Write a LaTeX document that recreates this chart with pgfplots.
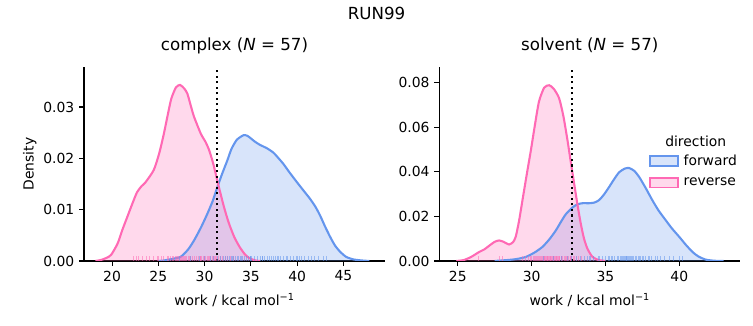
\documentclass[border=0pt]{standalone}
\usepackage{fontspec}
\setmainfont{DejaVu Sans}
\usepackage{pgfplots}
\usepackage{pgfplotstable}
\pgfplotsset{compat=1.18}
\definecolor{cblue}{RGB}{100,149,237}
\definecolor{cpink}{RGB}{255,105,180}

\pgfplotstableread{
x y
18.2 0
18.8 0.0002
19.4 0.0006
19.9 0.0012
20.6 0.0034
21.1 0.0060
21.65 0.0086
22.2 0.0112
22.7 0.0134
23.2 0.0146
23.6 0.0153
24.5 0.0177
25.1 0.0210
25.6 0.0248
26.0 0.0283
26.4 0.0316
26.9 0.0338
27.35 0.0343
27.8 0.0336
28.14 0.0326
28.5 0.0303
28.86 0.0281
29.59 0.0248
30.1 0.0232
30.49 0.0216
30.9 0.0192
31.2 0.0170
31.6 0.0140
32.1 0.0105
32.6 0.0075
33.2 0.0047
33.8 0.0027
34.4 0.0012
34.9 0.0005
35.5 0.0001
36.0 0
}\cpink

\pgfplotstableread{
x y
25.0 0
25.6 0.0001
26.5 0.0004
27.4 0.0008
28.2 0.0022
28.86 0.0040
29.6 0.0065
30.3 0.0092
30.9 0.0118
31.38 0.0144
31.9 0.0170
32.46 0.0196
32.9 0.0218
33.48 0.0236
34.2 0.0245
34.6 0.0244
34.92 0.0240
35.4 0.0233
36.0 0.0226
36.7 0.0220
37.44 0.0211
38.0 0.0200
38.52 0.0189
39.2 0.0172
39.96 0.0154
40.7 0.0137
41.4 0.0121
42.0 0.0105
42.5 0.0088
43.0 0.0068
43.57 0.0047
44.1 0.0030
44.65 0.0018
45.3 0.0008
46.1 0.0003
47.0 0.0001
47.8 0
}\cblue

\pgfplotstableread{
x y
24.9 0
25.4 0.0004
25.9 0.0018
26.44 0.0040
26.8 0.0052
27.12 0.0068
27.5 0.0086
27.8 0.0092
28.1 0.0086
28.47 0.0074
28.75 0.0085
28.93 0.0110
29.15 0.0180
29.38 0.0272
29.65 0.0380
29.95 0.0496
30.2 0.0600
30.5 0.0715
30.85 0.0777
31.19 0.0788
31.5 0.0772
31.86 0.0730
32.15 0.0650
32.43 0.0541
32.65 0.0445
32.88 0.0347
33.1 0.0255
33.33 0.0167
33.55 0.0100
33.78 0.0055
34.1 0.0020
34.5 0.0005
35.0 0
}\spink

\pgfplotstableread{
x y
27.5 0
28.5 0.0005
29.0 0.0009
29.6 0.0018
30.2 0.0038
30.73 0.0063
31.2 0.0097
31.64 0.0137
32.0 0.0177
32.32 0.0210
32.77 0.0240
33.1 0.0254
33.44 0.0259
33.9 0.0259
34.25 0.0262
34.57 0.0273
34.9 0.0298
35.25 0.0332
35.6 0.0368
35.93 0.0398
36.3 0.0414
36.6 0.0417
36.95 0.0404
37.28 0.0377
37.7 0.0330
38.18 0.0272
38.6 0.0226
39.09 0.0182
39.5 0.0146
40.0 0.0108
40.45 0.0072
40.9 0.0040
41.3 0.0020
41.8 0.0006
42.4 0.0001
43.0 0
}\sblue

\pgfplotsset{
  myaxis/.style={
    scale only axis, width=216.7pt, height=139.7pt,
    axis x line=bottom, axis y line=left,
    axis line style={-, line width=0.8pt, black},
    tick align=outside, xtick pos=bottom, ytick pos=left,
    major tick length=3.5pt,
    every tick/.style={black, line width=0.8pt},
    tick label style={font=\fontsize{10}{12}\selectfont},
    label style={font=\fontsize{10}{12}\selectfont},
    title style={font=\fontsize{12}{14}\selectfont, at={(axis description cs:0.5,1.067)}, anchor=center},
    xlabel style={at={(axis description cs:0.5,-0.201)}, anchor=center},
    /pgf/number format/assume math mode=true,
    scaled y ticks=false,
    yticklabel style={/pgf/number format/.cd, fixed, fixed zerofill, precision=2},
    xlabel={work / kcal mol\textsuperscript{−1}},
    ymin=0,
  },
  fillb/.style={draw=none, fill=cblue, fill opacity=0.25, forget plot},
  fillp/.style={draw=none, fill=cpink, fill opacity=0.25, forget plot},
  lineb/.style={cblue, line width=1.5pt, smooth, tension=0.4,
    legend image code/.code={\draw[draw=cblue, fill=cblue!25, line width=1.2pt] (0pt,-3.5pt) rectangle (20pt,3.5pt);}},
  linep/.style={cpink, line width=1.5pt, smooth, tension=0.4,
    legend image code/.code={\draw[draw=cpink, fill=cpink!25, line width=1.2pt] (0pt,-3.5pt) rectangle (20pt,3.5pt);}},
  rug/.style={only marks, mark=|, mark size=1.75pt, forget plot,
    mark options={yshift=1.75pt, line width=0.6pt, opacity=0.55}},
  vl/.style={black, line width=1.5pt, dash pattern=on 1.5pt off 2.5pt, forget plot},
}

\begin{document}
\begin{tikzpicture}
\useasboundingbox (0,0) rectangle (542.16pt,234pt);
\node[font=\fontsize{12}{14}\selectfont] at (271.08pt,224.6pt) {RUN99};

\begin{axis}[myaxis, at={(60.5pt,46.1pt)}, anchor=south west,
  xmin=16.97, xmax=49.5, ymax=0.0378,
  xtick={20,25,30,35,40,45}, ytick={0,0.01,0.02,0.03},
  title={complex (\textit{N} = 57)},
  ylabel={Density},
  ylabel style={at={(axis description cs:-0.18,0.5)}, anchor=center},
]
\addplot[fillb, smooth, tension=0.4] table {\cblue} \closedcycle;
\addplot[fillp, smooth, tension=0.4] table {\cpink} \closedcycle;
\addplot[lineb] table {\cblue};
\addplot[linep] table {\cpink};
\addplot[rug, cpink] coordinates {(22.3,0) (22.6,0) (22.9,0) (23.3,0) (23.7,0) (24.0,0) (24.5,0) (24.9,0) (25.3,0) (25.6,0) (26.1,0) (26.3,0) (26.5,0) (26.6,0) (26.8,0) (27.0,0) (27.1,0) (27.2,0) (27.3,0) (27.4,0) (27.5,0) (27.6,0) (27.7,0) (27.8,0) (28.0,0) (28.2,0) (28.4,0) (28.7,0) (28.9,0) (29.1,0) (29.3,0) (29.5,0) (29.7,0) (29.9,0) (30.0,0) (30.1,0) (30.3,0) (30.4,0) (30.6,0) (30.8,0) (31.0,0) (31.1,0) (31.3,0) (31.5,0) (31.7,0) (31.9,0) (32.2,0) (32.5,0) (32.8,0) (33.1,0) (25.0,0) (26.0,0) (27.9,0) (28.5,0) (29.6,0) (30.5,0) (31.2,0)};
\addplot[rug, cblue] coordinates {(27.3,0) (28.5,0) (29.4,0) (30.0,0) (30.6,0) (31.0,0) (31.4,0) (31.7,0) (32.0,0) (32.2,0) (32.5,0) (32.7,0) (32.9,0) (33.1,0) (33.3,0) (33.5,0) (33.7,0) (33.9,0) (34.1,0) (34.3,0) (34.5,0) (34.7,0) (34.9,0) (35.1,0) (35.4,0) (35.7,0) (36.0,0) (36.3,0) (36.5,0) (36.8,0) (37.0,0) (37.2,0) (37.4,0) (37.7,0) (37.9,0) (38.2,0) (38.5,0) (38.8,0) (39.0,0) (39.3,0) (39.6,0) (39.9,0) (40.2,0) (40.5,0) (40.8,0) (41.2,0) (41.5,0) (41.9,0) (42.3,0) (42.8,0) (43.2,0) (35.0,0) (36.2,0) (33.0,0) (34.0,0) (38.0,0) (40.0,0)};
\addplot[vl] coordinates {(31.35,0) (31.35,0.0378)};
\end{axis}

\begin{axis}[myaxis, at={(316.3pt,46.1pt)}, anchor=south west,
  xmin=23.75, xmax=44.13, ymax=0.087,
  xtick={25,30,35,40}, ytick={0,0.02,0.04,0.06,0.08},
  title={solvent (\textit{N} = 57)},
  legend style={draw=none, fill=none, at={(axis description cs:0.683,0.575)}, anchor=north west,
    font=\fontsize{10}{12}\selectfont, row sep=4.5pt, column sep=1pt,
    nodes={inner xsep=2.5pt, inner ysep=1.5pt}},
  legend cell align=left,
]
\addplot[fillb, smooth, tension=0.4] table {\sblue} \closedcycle;
\addplot[fillp, smooth, tension=0.4] table {\spink} \closedcycle;
\addplot[lineb] table {\sblue};
\addlegendentry{forward}
\addplot[linep] table {\spink};
\addlegendentry{reverse}
\addplot[rug, cpink] coordinates {(26.4,0) (27.8,0) (28.0,0) (29.4,0) (29.6,0) (29.8,0) (29.9,0) (30.0,0) (30.1,0) (30.2,0) (30.3,0) (30.4,0) (30.5,0) (30.6,0) (30.7,0) (30.8,0) (30.85,0) (30.9,0) (31.0,0) (31.05,0) (31.1,0) (31.15,0) (31.2,0) (31.3,0) (31.35,0) (31.4,0) (31.5,0) (31.55,0) (31.6,0) (31.7,0) (31.75,0) (31.8,0) (31.9,0) (32.0,0) (32.1,0) (32.2,0) (32.3,0) (32.4,0) (32.5,0) (32.6,0) (32.7,0) (32.8,0) (32.9,0) (33.0,0) (33.2,0) (33.4,0) (30.25,0) (30.45,0) (30.65,0) (30.95,0) (31.25,0) (31.45,0) (31.65,0) (31.85,0) (32.05,0) (32.35,0) (32.65,0)};
\addplot[rug, cblue] coordinates {(30.8,0) (31.5,0) (32.0,0) (32.4,0) (32.7,0) (33.0,0) (33.3,0) (33.6,0) (33.9,0) (34.2,0) (34.5,0) (34.8,0) (35.0,0) (35.2,0) (35.4,0) (35.6,0) (35.8,0) (35.9,0) (36.0,0) (36.1,0) (36.2,0) (36.3,0) (36.4,0) (36.5,0) (36.6,0) (36.7,0) (36.8,0) (36.9,0) (37.0,0) (37.1,0) (37.3,0) (37.5,0) (37.7,0) (37.9,0) (38.1,0) (38.4,0) (38.7,0) (39.0,0) (39.3,0) (39.6,0) (40.0,0) (40.2,0) (34.0,0) (35.5,0) (36.15,0) (36.45,0) (36.75,0) (37.2,0) (37.6,0) (38.0,0) (33.8,0) (34.6,0) (35.3,0) (36.35,0) (36.55,0) (37.4,0) (38.5,0)};
\addplot[vl] coordinates {(32.74,0) (32.74,0.087)};
\node[font=\fontsize{10}{12}\selectfont, anchor=center] at (axis description cs:0.852,0.615) {direction};
\end{axis}
\end{tikzpicture}
\end{document}
